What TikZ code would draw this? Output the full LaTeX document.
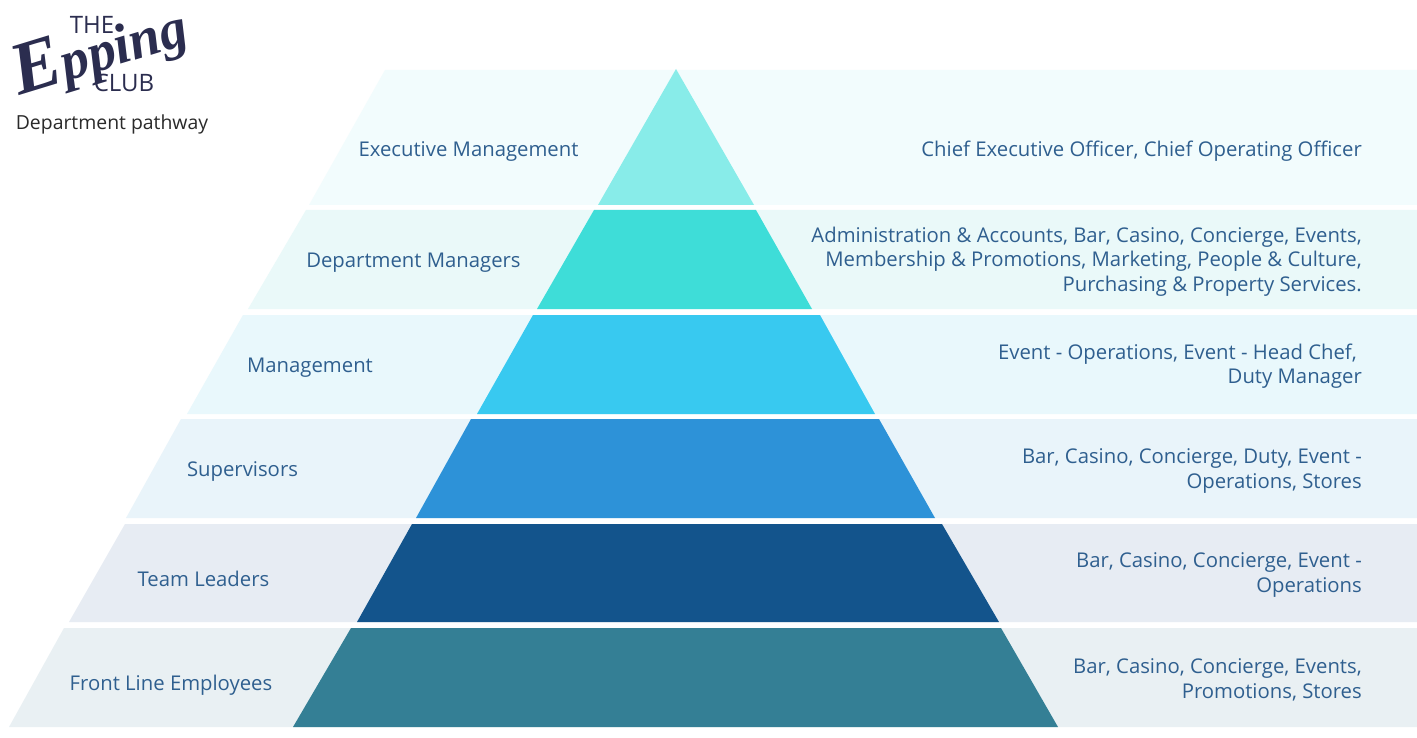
\documentclass[tikz,border=0pt]{standalone}
\usepackage{fontspec}
\setmainfont{Open Sans}
\newfontfamily\logofont{Liberation Serif}
\definecolor{txt}{HTML}{2F5F8F}
\definecolor{logo}{HTML}{2B2D4F}
\definecolor{dept}{HTML}{2A2A2A}
\definecolor{bA}{HTML}{F2FCFD}\definecolor{bB}{HTML}{EAF9F9}\definecolor{bC}{HTML}{E9F8FC}
\definecolor{bD}{HTML}{E9F4FA}\definecolor{bE}{HTML}{E7ECF3}\definecolor{bF}{HTML}{E9F0F3}
\definecolor{pA}{HTML}{88ECE9}\definecolor{pB}{HTML}{3EDDD8}\definecolor{pC}{HTML}{38C9F0}
\definecolor{pD}{HTML}{2D92D8}\definecolor{pE}{HTML}{13548C}\definecolor{pF}{HTML}{347F95}
\tikzset{
  lab/.style={text=txt,font=\fontsize{20.3}{24.4}\selectfont,inner sep=0pt},
  leftlab/.style={lab,anchor=center},
  rightlab/.style={lab,anchor=east,align=right},
  logotext/.style={text=logo,font=\fontsize{24}{24}\selectfont,inner sep=0pt},
}
\begin{document}
\begin{tikzpicture}[x=1pt,y=-1pt]
\useasboundingbox (0,0) rectangle (1417,738);
\fill[white] (0,0) rectangle (1417,738);
% bands
\fill[bA] (385,70) -- (1417,70) -- (1417,205) -- (309,205) -- cycle;
\fill[bB] (306,210) -- (1417,210) -- (1417,309) -- (248,309) -- cycle;
\fill[bC] (243,315) -- (1417,315) -- (1417,414) -- (187,414) -- cycle;
\fill[bD] (181,419) -- (1417,419) -- (1417,518) -- (126,518) -- cycle;
\fill[bE] (125,524) -- (1417,524) -- (1417,622) -- (69,622) -- cycle;
\fill[bF] (64,628) -- (1417,628) -- (1417,727) -- (9,727) -- cycle;
% pyramid
\fill[pA] (676,69) -- (754,205) -- (598,205) -- cycle;
\fill[pB] (594,210) -- (756,210) -- (812,309) -- (537,309) -- cycle;
\fill[pC] (533,315) -- (820,315) -- (875,414) -- (477,414) -- cycle;
\fill[pD] (471,419) -- (879,419) -- (935,518) -- (416,518) -- cycle;
\fill[pE] (412,524) -- (942,524) -- (999,622) -- (357,622) -- cycle;
\fill[pF] (351,628) -- (1001,628) -- (1058,727) -- (293,727) -- cycle;
% left labels
\node[leftlab] (l1) at (468.5,151.5) {Executive Management};
\node[leftlab] (l2) at (413.5,262.5) {Department Managers};
\node[leftlab] (l3) at (310,367.5) {Management};
\node[leftlab] (l4) at (242.5,471.5) {Supervisors};
\node[leftlab] (l5) at (203.5,578.5) {Team Leaders};
\node[leftlab] (l6) at (171,685.5) {Front Line Employees};
% right labels
\node[rightlab] (r1) at (1362,151.5) {Chief Executive Officer, Chief Operating Officer};
\node[rightlab] (r2) at (1362,261.5) {Administration \& Accounts, Bar, Casino, Concierge, Events,\\Membership \& Promotions, Marketing, People \& Culture,\\Purchasing \& Property Services.};
\node[rightlab] (r3) at (1362,366) {Event - Operations, Event - Head Chef,\hspace*{5pt}\\Duty Manager};
\node[rightlab] (r4) at (1362,471) {Bar, Casino, Concierge, Duty, Event -\\Operations, Stores};
\node[rightlab] (r5) at (1362,575) {Bar, Casino, Concierge, Event -\\Operations};
\node[rightlab] (r6) at (1362,680) {Bar, Casino, Concierge, Events,\\Promotions, Stores};
% logo
\node[text=logo,font=\logofont\fontsize{56}{56}\selectfont\bfseries\itshape,inner sep=0pt,rotate=17] (epping) at (100,52) {{\fontsize{74}{74}\selectfont E}pping};
\node[logotext] (the) at (92,25) {THE};
\node[logotext] (club) at (124,83) {CLUB};
\node[text=dept,font=\fontsize{19.4}{24}\selectfont,inner sep=0pt] (dp) at (112,124) {Department pathway};
\end{tikzpicture}
\end{document}
